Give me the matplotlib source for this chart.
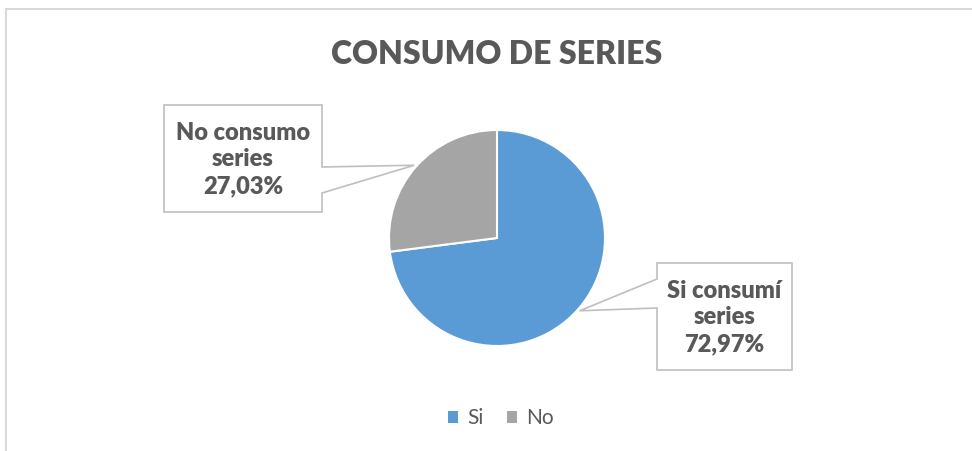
import matplotlib.pyplot as plt
from matplotlib.patches import Polygon, Rectangle
import numpy as np

plt.rcParams['font.family'] = ['Lato', 'DejaVu Sans']

title = "CONSUMO DE SERIES"
categories = ["Si", "No"]
values = [72.97, 27.03]
box_labels = ["Si consumí\nseries", "No consumo\nseries"]
colors = ["#5B9BD5", "#A5A5A5"]
text_color = "#595959"
border_color = "#BFBFBF"

W, H = 972, 451
fig = plt.figure(figsize=(W / 100, H / 100), dpi=100)
ax = fig.add_axes([0, 0, 1, 1])

# pie geometry in pixel units (y measured from bottom)
cx, cy, r = 497, H - 238, 108
wedges, _ = ax.pie(values, colors=colors, startangle=90, counterclock=False,
                   center=(cx, cy), radius=r,
                   wedgeprops=dict(edgecolor="white", linewidth=1.5))
ax.set_xlim(0, W)
ax.set_ylim(0, H)
ax.set_aspect("equal")
ax.axis("off")

# chart frame (cut off at right and bottom)
ax.add_patch(Rectangle((6, -20), W + 20, H - 9 + 20, fill=False,
                       edgecolor="#D9D9D9", linewidth=1.5))

ax.text(cx, H - 54, title, ha="center", va="center", fontsize=23,
        fontweight="heavy", color=text_color)

# callout boxes: (left, top, right, bottom) in pixels from top
boxes = [(657, 263, 792, 370), (164, 105, 322, 212)]
for w, lab, val, (bl, bt, br, bb) in zip(wedges, box_labels, values, boxes):
    mid = np.deg2rad((w.theta1 + w.theta2) / 2)
    tx, ty = cx + r * 1.02 * np.cos(mid), cy + r * 1.02 * np.sin(mid)
    top, bot = H - bt, H - bb
    if tx > br:
        # pointer on right side
        pts = [(bl, top), (br, top), (br, top - 62), (tx, ty), (br, top - 88),
               (br, bot), (bl, bot)]
    else:
        pts = [(bl, top), (br, top), (br, bot), (bl, bot), (bl, top - 45),
               (tx, ty), (bl, top - 16)]
    ax.add_patch(Polygon(pts, closed=True, facecolor="white",
                         edgecolor=border_color, linewidth=1.2, zorder=3))
    pct = f"{val:.2f}%".replace(".", ",")
    ax.text((bl + br) / 2, (top + bot) / 2 - 1, f"{lab}\n{pct}", ha="center",
            va="center", fontsize=17, fontweight="heavy", color=text_color,
            linespacing=1.25, zorder=4)

leg = ax.legend(wedges, categories, loc="center", bbox_to_anchor=(501 / W, (H - 418) / H),
                bbox_transform=fig.transFigure, ncol=2, frameon=False,
                fontsize=15, handlelength=0.5, handleheight=0.5,
                handletextpad=0.45, columnspacing=1.1)
for t in leg.get_texts():
    t.set_color(text_color)
for h in leg.legend_handles:
    h.set_edgecolor("none")

fig.savefig("out.png", dpi=100)
